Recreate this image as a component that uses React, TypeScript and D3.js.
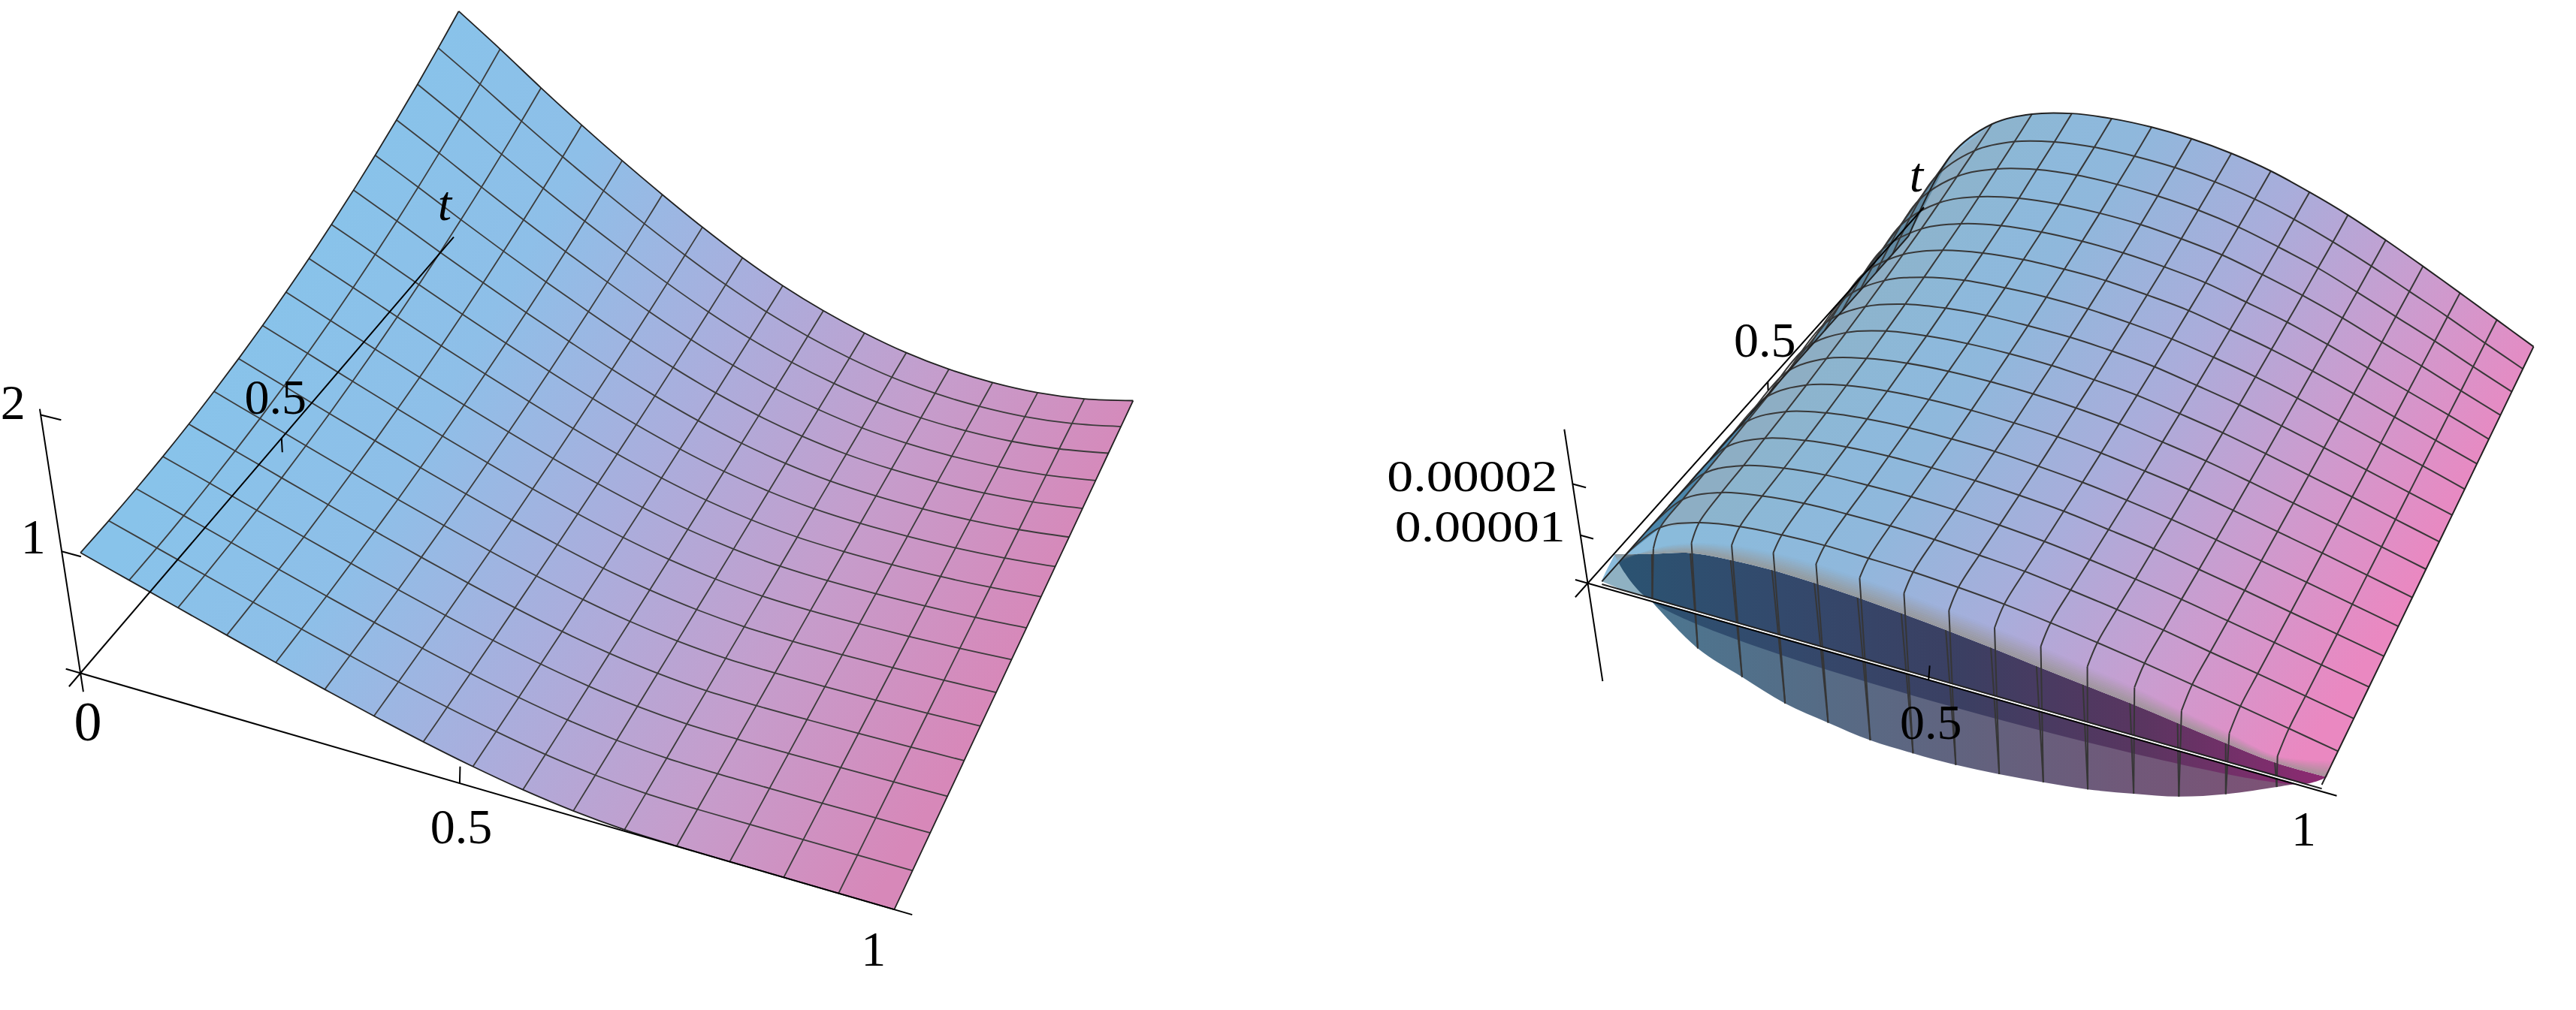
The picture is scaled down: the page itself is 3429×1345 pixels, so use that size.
import React, { useEffect, useRef } from 'react';
import * as d3 from 'd3';

type Pt = [number, number];

const WIDTH = 3429;
const HEIGHT = 1345;

const gridX = d3.range(17).map(i => i / 16);
const gridT = d3.range(17).map(j => j / 16);

// Left surface: height, one row per t line, one column per x line
const leftHeights = [
  [1.03, 0.915, 0.8, 0.686, 0.574, 0.465, 0.36, 0.262, 0.174, 0.1, 0.045, 0.012, 0.002, 0, 0, 0, 0],
  [1.034, 0.918, 0.803, 0.688, 0.576, 0.467, 0.361, 0.263, 0.175, 0.1, 0.045, 0.012, 0.002, 0, 0, 0, 0],
  [1.045, 0.928, 0.811, 0.696, 0.582, 0.471, 0.365, 0.266, 0.177, 0.102, 0.046, 0.012, 0.001, -0.001, -0.002, -0.001, 0],
  [1.063, 0.945, 0.825, 0.707, 0.592, 0.479, 0.371, 0.27, 0.18, 0.104, 0.047, 0.012, 0, -0.003, -0.003, -0.002, 0],
  [1.089, 0.968, 0.845, 0.724, 0.606, 0.491, 0.38, 0.277, 0.184, 0.107, 0.048, 0.011, -0.002, -0.006, -0.006, -0.004, 0],
  [1.123, 0.997, 0.87, 0.746, 0.623, 0.505, 0.391, 0.285, 0.19, 0.11, 0.05, 0.011, -0.004, -0.009, -0.01, -0.007, 0],
  [1.164, 1.033, 0.901, 0.772, 0.645, 0.523, 0.405, 0.296, 0.197, 0.115, 0.052, 0.011, -0.007, -0.013, -0.014, -0.009, 0],
  [1.212, 1.076, 0.938, 0.803, 0.671, 0.544, 0.421, 0.308, 0.206, 0.12, 0.054, 0.01, -0.01, -0.018, -0.019, -0.013, 0],
  [1.268, 1.125, 0.98, 0.838, 0.701, 0.568, 0.44, 0.322, 0.216, 0.126, 0.057, 0.01, -0.013, -0.023, -0.024, -0.017, 0],
  [1.331, 1.181, 1.028, 0.879, 0.734, 0.595, 0.461, 0.337, 0.227, 0.133, 0.06, 0.009, -0.017, -0.029, -0.031, -0.021, 0],
  [1.401, 1.243, 1.081, 0.924, 0.772, 0.625, 0.485, 0.355, 0.239, 0.141, 0.064, 0.009, -0.022, -0.036, -0.038, -0.026, 0],
  [1.479, 1.312, 1.14, 0.974, 0.813, 0.659, 0.511, 0.375, 0.253, 0.15, 0.068, 0.008, -0.027, -0.044, -0.046, -0.032, 0],
  [1.564, 1.388, 1.205, 1.029, 0.859, 0.696, 0.54, 0.396, 0.267, 0.159, 0.072, 0.007, -0.032, -0.052, -0.055, -0.038, 0],
  [1.657, 1.47, 1.275, 1.088, 0.908, 0.736, 0.571, 0.419, 0.284, 0.169, 0.077, 0.006, -0.038, -0.061, -0.064, -0.044, 0],
  [1.757, 1.558, 1.351, 1.152, 0.961, 0.779, 0.605, 0.444, 0.301, 0.18, 0.082, 0.005, -0.045, -0.07, -0.074, -0.051, 0],
  [1.865, 1.653, 1.433, 1.221, 1.019, 0.825, 0.641, 0.471, 0.32, 0.192, 0.087, 0.004, -0.052, -0.081, -0.085, -0.059, 0],
  [1.98, 1.755, 1.52, 1.295, 1.08, 0.875, 0.68, 0.5, 0.34, 0.205, 0.093, 0.003, -0.059, -0.092, -0.097, -0.067, 0],
];

// Right surface, heights in units of 0.00001. Rows start at t = 1/16
const rightHeights = [
  [0, 0.8, 1.11, 1.24, 1.29, 1.3, 1.27, 1.23, 1.16, 1.07, 0.95, 0.81, 0.66, 0.5, 0.34, 0.17, 0],
  [0, 0.85, 1.19, 1.32, 1.38, 1.38, 1.36, 1.31, 1.23, 1.14, 1.01, 0.87, 0.71, 0.53, 0.36, 0.18, 0],
  [0, 0.88, 1.22, 1.36, 1.42, 1.42, 1.4, 1.35, 1.27, 1.17, 1.04, 0.89, 0.73, 0.55, 0.37, 0.18, 0],
  [0, 0.91, 1.27, 1.41, 1.47, 1.48, 1.45, 1.4, 1.32, 1.22, 1.08, 0.93, 0.75, 0.57, 0.38, 0.19, 0],
  [0, 0.95, 1.32, 1.47, 1.53, 1.54, 1.51, 1.46, 1.37, 1.26, 1.12, 0.96, 0.78, 0.59, 0.4, 0.2, 0],
  [0, 0.99, 1.38, 1.54, 1.6, 1.61, 1.58, 1.52, 1.44, 1.32, 1.17, 1.01, 0.82, 0.62, 0.42, 0.21, 0],
  [0, 1.04, 1.45, 1.61, 1.68, 1.69, 1.66, 1.6, 1.51, 1.39, 1.23, 1.06, 0.86, 0.65, 0.44, 0.22, 0],
  [0, 1.09, 1.52, 1.7, 1.76, 1.77, 1.74, 1.68, 1.58, 1.46, 1.29, 1.11, 0.9, 0.68, 0.46, 0.23, 0],
  [0, 1.15, 1.6, 1.79, 1.86, 1.87, 1.83, 1.77, 1.67, 1.54, 1.36, 1.17, 0.95, 0.72, 0.48, 0.24, 0],
  [0, 1.22, 1.69, 1.89, 1.97, 1.97, 1.94, 1.87, 1.76, 1.62, 1.44, 1.24, 1.01, 0.76, 0.51, 0.26, 0],
  [0, 1.29, 1.79, 2.0, 2.08, 2.09, 2.05, 1.98, 1.86, 1.72, 1.52, 1.31, 1.07, 0.81, 0.54, 0.27, 0],
  [0, 1.36, 1.89, 2.11, 2.2, 2.21, 2.17, 2.09, 1.97, 1.82, 1.61, 1.39, 1.13, 0.85, 0.57, 0.29, 0],
  [0, 1.44, 2.01, 2.24, 2.33, 2.34, 2.3, 2.22, 2.09, 1.93, 1.71, 1.47, 1.2, 0.9, 0.61, 0.3, 0],
  [0, 1.54, 2.14, 2.39, 2.49, 2.5, 2.45, 2.36, 2.23, 2.05, 1.82, 1.57, 1.27, 0.96, 0.65, 0.32, 0],
  [0, 1.64, 2.27, 2.54, 2.64, 2.65, 2.6, 2.51, 2.37, 2.18, 1.94, 1.66, 1.35, 1.02, 0.69, 0.34, 0],
  [0, 1.74, 2.42, 2.7, 2.81, 2.82, 2.77, 2.67, 2.52, 2.32, 2.06, 1.77, 1.44, 1.09, 0.73, 0.365, 0],
];

// The fold of the right surface near t = 0, one value per x line
const rimT = 0.044;
const rimHeights = [0, 0.53, 0.86, 1.03, 1.1, 1.1, 1.05, 0.98, 0.88, 0.78, 0.66, 0.51, 0.36, 0.16, -0.02, -0.2, 0];
const backT = 0.039;
const backHeights = [0.23, 0.46, 0.7, 0.78, 0.8, 0.77, 0.71, 0.63, 0.54, 0.43, 0.31, 0.2, 0.09, -0.04, -0.17, -0.28, -0.28];
const lobeT = [0, 0.027, 0.038, 0.053, 0.067, 0.083, 0.097, 0.113, 0.128, 0.144, 0.161, 0.177, 0.195, 0.199, 0.188, 0.174, 0];
const lobeHeights = [0, -0.46, -1.36, -1.92, -2.43, -2.79, -3.09, -3.3, -3.46, -3.57, -3.66, -3.71, -3.71, -3.51, -3.0, -2.35, 0];

const surfaceStops = {
  left: ['#88c3ea', '#8ebfe8', '#a9aedd', '#c59dcc', '#d788b9'],
  right: ['#8abbdb', '#8fb8dc', '#a9addb', '#cb9ccf', '#ea88c1'],
  back: ['#2a5472', '#33496c', '#3b3f62', '#5a3560', '#8e2a72'],
  lobe: ['#4c7690', '#556c86', '#62627e', '#715879', '#7f5175'],
};

const curveLine = d3.line<Pt>().curve(d3.curveCatmullRom.alpha(0.5));
const straightLine = d3.line<Pt>();

// stitch separate curved runs into one closed outline
const outline = (runs: Pt[][]) =>
  runs
    .map((run, k) => {
      const d = curveLine(run) as string;
      return k ? d.replace('M', 'L') : d;
    })
    .join('') + 'Z';

interface View {
  origin: Pt;
  vx: Pt;
  vt: Pt;
  vz: Pt;
  a: number;
  b: number;
  c: number;
}

const makeProjection = (view: View) => (u: number, v: number, s: number): Pt => {
  const w = 1 + view.a * u + view.b * v + view.c * s;
  return [
    view.origin[0] + (u * view.vx[0] + v * view.vt[0] + s * view.vz[0]) / w,
    view.origin[1] + (u * view.vx[1] + v * view.vt[1] + s * view.vz[1]) / w,
  ];
};

const leftView: View = { origin: [107.1, 896.4], vx: [974.3, 283.1], vt: [607.7, -710.3], vz: [-48.2, -313.1], a: -0.12, b: 0.223, c: -0.11 };
const rightView: View = { origin: [2113.5, 776.7], vx: [832.5, 236.4], vt: [549.5, -614.9], vz: [-28.3, -185.9], a: -0.165, b: 0.228, c: -0.093 };
const rightSheetView: View = { ...rightView, vz: [-22, -185.9] };

export default function App() {
  const svgRef = useRef<SVGSVGElement>(null);

  useEffect(() => {
    if (!svgRef.current) return;
    const svg = d3.select(svgRef.current);
    svg.selectAll('*').remove();
    const defs = svg.append('defs');

    const addGradient = (id: string, stops: string[], from: Pt, to: Pt) => {
      const g = defs
        .append('linearGradient')
        .attr('id', id)
        .attr('gradientUnits', 'userSpaceOnUse')
        .attr('x1', from[0])
        .attr('y1', from[1])
        .attr('x2', to[0])
        .attr('y2', to[1]);
      stops.forEach((c, i) => g.append('stop').attr('offset', i / (stops.length - 1)).attr('stop-color', c));
    };

    const addMesh = (g: d3.Selection<SVGGElement, unknown, null, undefined>, lines: Pt[][], color: string, width: number) => {
      lines.forEach(pts => {
        g.append('path').attr('d', curveLine(pts)).attr('fill', 'none').attr('stroke', color).attr('stroke-width', width);
      });
    };

    const addAxisLine = (g: d3.Selection<SVGGElement, unknown, null, undefined>, a: Pt, b: Pt, width = 2) => {
      g.append('path').attr('d', straightLine([a, b])).attr('fill', 'none').attr('stroke', '#000').attr('stroke-width', width);
    };

    const addLabel = (g: d3.Selection<SVGGElement, unknown, null, undefined>, at: Pt, dx: number, dy: number, text: string, anchor = 'middle', italic = false, size = 66) => {
      return g
        .append('text')
        .attr('x', at[0] + dx)
        .attr('y', at[1] + dy)
        .attr('text-anchor', anchor)
        .attr('font-family', '"Liberation Serif", serif')
        .attr('font-size', size)
        .attr('font-style', italic ? 'italic' : 'normal')
        .attr('fill', '#000')
        .text(text);
    };

    // ---- left surface ----
    {
      const project = makeProjection(leftView);
      const uScale = d3.scaleLinear([0, 1], [0.025, 0.981]);
      const vScale = d3.scaleLinear([0, 1], [0, 0.95]);
      const sScale = d3.scaleLinear([0, 2], [0, 0.98]);
      const uAxis = d3.scaleLinear([0, 1], [0, 0.9756]);
      const vAxis = d3.scaleLinear([0, 1], [0, 0.977]);
      const node = (i: number, j: number) => project(uScale(gridX[i]), vScale(gridT[j]), sScale(leftHeights[j][i]));

      const g = svg.append('g');
      const rows = gridT.map((_, j) => gridX.map((__, i) => node(i, j)));
      const cols = gridX.map((_, i) => gridT.map((__, j) => node(i, j)));

      const midA: Pt = [(node(0, 0)[0] + node(0, 16)[0]) / 2, (node(0, 0)[1] + node(0, 16)[1]) / 2];
      addGradient('leftFill', surfaceStops.left, midA, [midA[0] + 960, midA[1] + 559]);

      g.append('path')
        .attr('d', outline([rows[0], cols[16], [...rows[16]].reverse(), [...cols[0]].reverse()]))
        .attr('fill', 'url(#leftFill)');

      addMesh(g, rows.slice(1, 16), '#3c3c3c', 1.8);
      addMesh(g, cols.slice(1, 16), '#3c3c3c', 1.8);
      addMesh(g, [rows[0], rows[16], cols[0], cols[16]], '#222', 1.8);

      // axes
      addAxisLine(g, project(-0.02, 0, 0), project(1, 0, 0));
      addAxisLine(g, project(0, -0.025, 0), project(0, 1, 0));
      addAxisLine(g, project(0, 0, -0.08), project(0, 0, 1));
      const xTick = project(uAxis(0.5), 0, 0);
      addAxisLine(g, xTick, project(uAxis(0.5), 0, 0.07));
      const tTick = project(0, vAxis(0.5), 0);
      addAxisLine(g, tTick, project(0, vAxis(0.5), -0.06));
      const z1 = project(0, 0, sScale(1));
      const z2 = project(0, 0, sScale(2));
      addAxisLine(g, z1, project(0.025, 0, sScale(1)));
      addAxisLine(g, z2, project(0.025, 0, sScale(2)));

      addLabel(g, xTick, 2, 80, '0.5');
      addLabel(g, project(uAxis(1), 0, 0), -21, 77, '1');
      addLabel(g, project(0, 0, 0), 10, 90, '0', 'middle', false, 74);
      addLabel(g, tTick, -8, -33, '0.5');
      addLabel(g, project(0, 1, 0), -12, -23, 't', 'middle', true);
      addLabel(g, z1, -38, 3, '1');
      addLabel(g, z2, -37, 6, '2');
    }

    // ---- right surface ----
    {
      const project = makeProjection(rightView);
      const projectSheet = makeProjection(rightSheetView);
      const uScale = d3.scaleLinear([0, 1], [0.016, 0.98]);
      const vScale = d3.scaleLinear([0, 1], [0.01, 0.913]);
      const sScale = d3.scaleLinear([0, 3], [0, 1]);
      const vAxis = d3.scaleLinear([0, 1], [0, 0.969]);
      const at = (i: number, t: number, z: number) => project(uScale(gridX[i]), vScale(t), sScale(z));

      const g = svg.append('g');
      const idx = d3.range(17);
      const rows = rightHeights.map((row, r) => idx.map(i => projectSheet(uScale(gridX[i]), vScale(gridT[r + 1]), sScale(row[i]))));
      const cols = idx.map(i => rows.map(row => row[i]));
      const rimRow = idx.map(i => at(i, rimT, rimHeights[i]));
      const backRow = idx.map(i => at(i, backT, backHeights[i]));
      const lobeRow = idx.map(i => at(i, lobeT[i], lobeHeights[i]));
      const edgeT0 = idx.map(i => at(i, 0, 0));

      addGradient('rightFill', surfaceStops.right, [2347, 534], [3062, 1010]);
      addGradient('backFill', surfaceStops.back, [2133, 0], [3096, 0]);
      addGradient('lobeFill', surfaceStops.lobe, [2200, 0], [3060, 0]);

      const axisStart = project(0, 0, 0);
      const axisEnd = project(1, 0, 0);
      const onAxis = (x: number): Pt => [x, axisStart[1] + ((x - axisStart[0]) * (axisEnd[1] - axisStart[1])) / (axisEnd[0] - axisStart[0])];

      // lower lobe, below the x axis
      const lobeEnd = onAxis(lobeRow[15][0] + 24);
      g.append('path')
        .attr('d', outline([[...lobeRow.slice(1, 16), lobeEnd], [lobeEnd, lobeRow[1]]]))
        .attr('fill', 'url(#lobeFill)');

      // pale corner at the start of the fold
      g.append('path')
        .attr('d', straightLine([edgeT0[0], backRow[0], lobeRow[1]]) + 'Z')
        .attr('fill', '#8fb1c2');

      // dark inner band between the fold and the axis
      g.append('path')
        .attr('d', outline([backRow, [backRow[16], onAxis(backRow[16][0] - 40), lobeRow[1], backRow[0]]]))
        .attr('fill', 'url(#backFill)');

      // back and front strands of the x lines
      idx.slice(1, 16).forEach(i => {
        g.append('path').attr('d', straightLine([backRow[i], lobeRow[i]])).attr('fill', 'none').attr('stroke', '#363636').attr('stroke-width', 2);
      });

      // lit sheet
      g.append('path')
        .attr('d', outline([backRow, [backRow[16], ...cols[16]], [...rows[15]].reverse(), [...cols[0]].reverse(), [cols[0][0], edgeT0[0], backRow[0]]]))
        .attr('fill', 'url(#rightFill)');

      // back side seen past the x = 0 edge
      g.append('path')
        .attr('d', outline([cols[0], [...cols[1]].reverse()]))
        .attr('fill', '#4b86ab');

      // grey falling off towards the fold
      const STRIPS = 10;
      d3.range(STRIPS).forEach(k => {
        const mix = (f: number) => idx.map(i => d3.interpolate(backRow[i], rimRow[i])(f) as unknown as Pt);
        g.append('path')
          .attr('d', outline([mix(k / STRIPS), [...mix((k + 1) / STRIPS)].reverse()]))
          .attr('fill', '#96938f')
          .attr('fill-opacity', 0.85 * (1 - (k + 0.5) / STRIPS));
      });
      // grey near the x = 0 side
      [0.3, 0.16, 0.06].forEach((op, c) => {
        g.append('path')
          .attr('d', outline([cols[c + 1], [...cols[c + 2]].reverse()]))
          .attr('fill', '#96938f')
          .attr('fill-opacity', op);
      });

      addMesh(g, rows.slice(0, 15), '#383838', 2);
      addMesh(g, idx.slice(1, 16).map(i => [rimRow[i], ...cols[i]]), '#383838', 2);
      idx.slice(1, 16).forEach(i => {
        g.append('path').attr('d', straightLine([rimRow[i], lobeRow[i]])).attr('fill', 'none').attr('stroke', '#363636').attr('stroke-width', 2);
      });
      addMesh(g, [rows[15], [edgeT0[16], ...cols[16]], [edgeT0[0], ...cols[0]]], '#222', 2);

      // white gap and t = 0 edge next to the axis
      const edgeA = onAxis(edgeT0[0][0]);
      const edgeB = onAxis(edgeT0[16][0]);
      g.append('path').attr('d', straightLine([axisStart, axisEnd])).attr('fill', 'none').attr('stroke', '#fff').attr('stroke-width', 2.5).attr('transform', 'translate(0,-2)');
      g.append('path').attr('d', straightLine([edgeA, edgeB])).attr('fill', 'none').attr('stroke', '#222').attr('stroke-width', 2).attr('transform', 'translate(0,-4)');

      // axes
      addAxisLine(g, project(-0.02, 0, 0), project(1, 0, 0));
      addAxisLine(g, project(0, -0.03, 0), project(0, 1, 0));
      addAxisLine(g, project(0, 0, -0.75), project(0, 0, 1));
      const xTick = project(0.5, 0, 0);
      addAxisLine(g, xTick, project(0.5, 0, 0.1));
      const tTick = project(0, vAxis(0.5), 0);
      addAxisLine(g, tTick, project(0, vAxis(0.5), -0.06));
      const z1 = project(0, 0, sScale(1));
      const z2 = project(0, 0, sScale(2));
      addAxisLine(g, z1, project(0.02, 0, sScale(1)));
      addAxisLine(g, z2, project(0.02, 0, sScale(2)));

      addLabel(g, xTick, 3, 78, '0.5');
      addLabel(g, project(1, 0, 0), -44, 66, '1');
      addLabel(g, tTick, -4, -33, '0.5');
      addLabel(g, project(0, 1, 0), -10, -21, 't', 'middle', true);
      // the small labels are tall and narrow in the reference, stretched to its width
      addLabel(g, z1, -20, 8, '0.00001', 'end', false, 59).attr('textLength', 227).attr('lengthAdjust', 'spacingAndGlyphs');
      addLabel(g, z2, -20, 9, '0.00002', 'end', false, 59).attr('textLength', 227).attr('lengthAdjust', 'spacingAndGlyphs');
    }
  }, []);

  return <svg ref={svgRef} width={WIDTH} height={HEIGHT} style={{ position: 'absolute', left: 0, top: 0, background: '#fff' }} />;
}
